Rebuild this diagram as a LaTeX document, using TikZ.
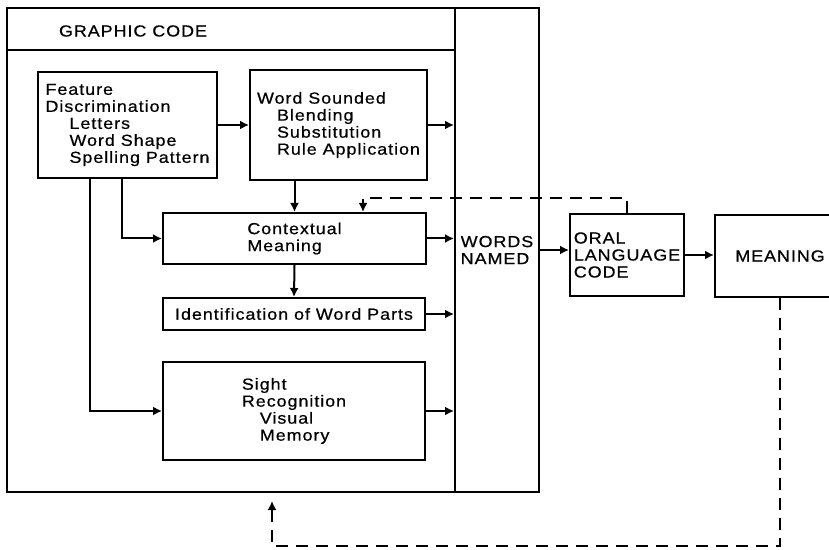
\documentclass[tikz,border=0pt]{standalone}
\usepackage{fontspec}
\setsansfont{Liberation Sans}[FakeStretch=1.12,LetterSpace=6,FakeBold=0.6]
\usetikzlibrary{arrows.meta, positioning}
\tikzstyle{block} = [draw, rectangle, inner sep=0pt, align=left]
\tikzstyle{fb} = [dash pattern=on 6pt off 4pt]

\begin{document}
\begin{tikzpicture}[>={Latex[length=4.5pt,width=4.5pt]}, x=.5pt, y=-.5pt, line width=1pt, font=\sffamily\fontsize{8}{8.5}\selectfont]
    \useasboundingbox (0,0) rectangle (829,550);
    \node[block, minimum width=224pt, minimum height=242pt] (graphic) at (231,250) {};
    \node[block, minimum width=224pt, minimum height=21pt] (header) at (231,29) {};
    \node[anchor=west, inner sep=0pt] (title) at (58,31) {GRAPHIC CODE};
    \node[block, minimum width=42pt, minimum height=242pt] (words) at (497,250) {WORDS\\NAMED};
    \node[block, minimum width=89.5pt, minimum height=53pt] (feat) at (127.5,125) {Feature\\Discrimination\\\hspace*{12pt}Letters\\\hspace*{12pt}Word Shape\\\hspace*{12pt}Spelling Pattern};
    \node[block, minimum width=88.5pt, minimum height=55pt] (ws) at (338.5,125) {Word Sounded\\\hspace*{10pt}Blending\\\hspace*{10pt}Substitution\\\hspace*{10pt}Rule Application};
    \node[block, minimum width=131.5pt, minimum height=25.5pt] (ctx) at (294.5,238.5) {Contextual\\Meaning};
    \node[block, minimum width=131pt, minimum height=16pt] (ident) at (294,314) {Identification of Word Parts};
    \node[block, minimum width=131pt, minimum height=49pt] (sight) at (294,411) {Sight\\Recognition\\\hspace*{9pt}Visual\\\hspace*{9pt}Memory};
    \node[block, minimum width=57pt, minimum height=41pt] (oral) at (627,255) {ORAL\\LANGUAGE\\CODE};
    \node[block, minimum width=65pt, minimum height=41pt] (meaning) at (780,256) {MEANING};
    \draw[->] (feat) -- (ws);
    \draw[->] (ws.east) -- (ws.east -| words.west);
    \draw[->] (ws.south -| ctx.north) -- (ctx.north);
    \draw[->] ([xshift=-3pt]feat.south) |- (ctx.west);
    \draw[->] ([xshift=-19pt]feat.south) |- (sight.west);
    \draw[->] (ctx.south) -- (ident.north);
    \foreach \n in {ctx, ident, sight}
        \draw[->] (\n.east) -- (\n.east -| words.west);
    \draw[->] (words.east) -- (words.east -| oral.west);
    \draw[->] (oral.east) -- (oral.east -| meaning.west);
    % feedback loops
    \coordinate (up) at (363,198);
    \draw[->, fb] (oral.north) |- (up) -- (up |- ctx.north);
    \coordinate (down) at (272,546);
    \draw[->, fb, shorten >=4pt] (meaning.south) |- (down) -- (down |- graphic.south);
\end{tikzpicture}
\end{document}
